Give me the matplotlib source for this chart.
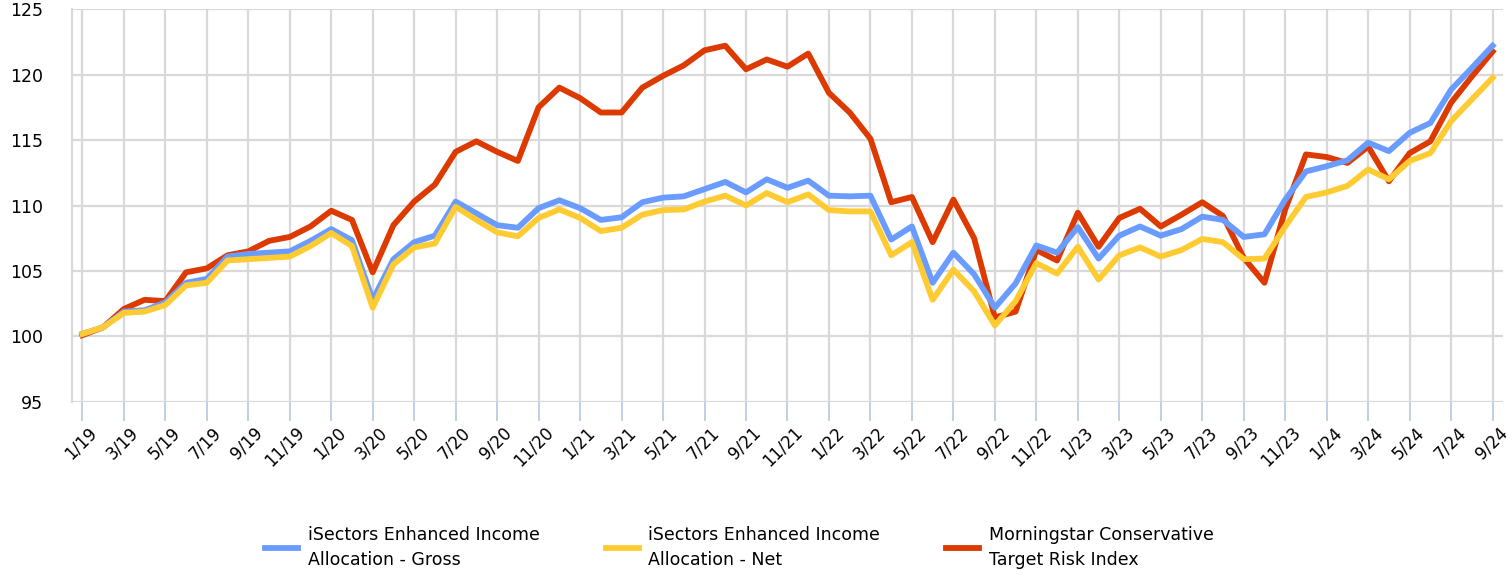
import matplotlib
matplotlib.use("Agg")
import matplotlib.pyplot as plt
import matplotlib.transforms as mtransforms
import numpy as np

# monthly values, Jan 2019 .. Sep 2024
gross = [100.2, 100.7, 101.9, 102.0, 102.6, 104.1, 104.4, 106.1, 106.3, 106.4,
         106.5, 107.3, 108.2, 107.35, 102.8, 105.9, 107.2, 107.7, 110.3, 109.4,
         108.5, 108.3, 109.8, 110.4, 109.8, 108.9, 109.1, 110.25, 110.6, 110.7,
         111.25, 111.8, 111.0, 112.0, 111.35, 111.9, 110.75, 110.7, 110.75, 107.4,
         108.4, 104.1, 106.4, 104.75, 102.2, 104.05, 106.95, 106.4, 108.35, 105.95,
         107.7, 108.4, 107.7, 108.2, 109.15, 108.9, 107.6, 107.8, 110.45, 112.6,
         113.0, 113.45, 114.8, 114.15, 115.55, 116.3, 118.85, 120.5, 122.2]

net = [100.2, 100.7, 101.8, 101.9, 102.4, 103.9, 104.1, 105.8, 105.9, 106.0,
       106.1, 106.9, 107.9, 106.9, 102.2, 105.5, 106.8, 107.1, 109.9, 108.9,
       107.95, 107.65, 109.05, 109.7, 109.05, 108.05, 108.3, 109.3, 109.65, 109.7,
       110.3, 110.75, 110.0, 110.95, 110.25, 110.85, 109.65, 109.55, 109.55, 106.2,
       107.2, 102.8, 105.1, 103.45, 100.85, 102.7, 105.6, 104.8, 106.85, 104.35,
       106.2, 106.8, 106.1, 106.6, 107.45, 107.2, 105.9, 105.95, 108.4, 110.65,
       111.0, 111.5, 112.75, 112.0, 113.4, 114.0, 116.45, 118.1, 119.75]

index = [100.1, 100.7, 102.1, 102.8, 102.7, 104.9, 105.2, 106.2, 106.5, 107.3,
         107.6, 108.4, 109.6, 108.9, 104.9, 108.5, 110.3, 111.6, 114.1, 114.9,
         114.1, 113.4, 117.5, 119.0, 118.2, 117.1, 117.1, 119.0, 119.9, 120.7,
         121.85, 122.2, 120.4, 121.15, 120.6, 121.6, 118.6, 117.1, 115.1, 110.25,
         110.65, 107.2, 110.45, 107.5, 101.45, 101.9, 106.6, 105.8, 109.45, 106.85,
         109.05, 109.75, 108.4, 109.3, 110.25, 109.2, 106.0, 104.1, 109.7, 113.9,
         113.7, 113.25, 114.5, 111.85, 114.0, 114.9, 117.85, 119.85, 121.75]

months = [f"{m}/{y % 100}" for y in range(2019, 2025) for m in range(1, 13)][:len(gross)]

labels = ["iSectors Enhanced Income\nAllocation - Gross",
          "iSectors Enhanced Income\nAllocation - Net",
          "Morningstar Conservative\nTarget Risk Index"]
colors = ["#6A9CFF", "#FFCB33", "#DC3A00"]

x = np.arange(len(gross))

fig = plt.figure(figsize=(15.09, 5.75), dpi=100)
ax = fig.add_axes([0.0477, 0.3009, 0.9483, 0.6834])

l_red, = ax.plot(x, index, color=colors[2], lw=4.2, label=labels[2], zorder=3)
l_blue, = ax.plot(x, gross, color=colors[0], lw=4.2, label=labels[0], zorder=4)
l_yel, = ax.plot(x, net, color=colors[1], lw=4.2, label=labels[1], zorder=5)

ax.set_xlim(-0.5, len(gross) - 0.5)
ax.set_ylim(95, 125)
ax.set_yticks(range(95, 126, 5))
ax.tick_params(axis="y", length=0, pad=21, labelsize=12.5)

tick_pos = x[::2]
ax.set_xticks(tick_pos)
ax.set_xticklabels([months[i] for i in tick_pos], rotation=45, ha="right",
                   rotation_mode="anchor", fontsize=12)
ax.tick_params(axis="x", length=13.5, width=1.3, color="#B9CDE5", pad=2)
# nudge labels a little to the right of their ticks
shift = mtransforms.ScaledTranslation(4 / 72, 0, fig.dpi_scale_trans)
for lbl in ax.get_xticklabels():
    lbl.set_transform(lbl.get_transform() + shift)

ax.grid(True, color="#D9D9D9", lw=1.6)
ax.set_axisbelow(True)
for side in ["top", "right", "bottom"]:
    ax.spines[side].set_visible(False)
ax.spines["left"].set_color("#D9D9D9")
ax.spines["left"].set_linewidth(1.6)

leg = fig.legend(handles=[l_blue, l_yel, l_red], loc="center",
                 bbox_to_anchor=(0.49, 0.048), ncol=3, frameon=False,
                 fontsize=12.5, handlelength=1.9, handletextpad=0.55,
                 columnspacing=3.8)
for t in leg.get_texts():
    t.set_linespacing(1.45)

fig.savefig("out.png", dpi=100)
